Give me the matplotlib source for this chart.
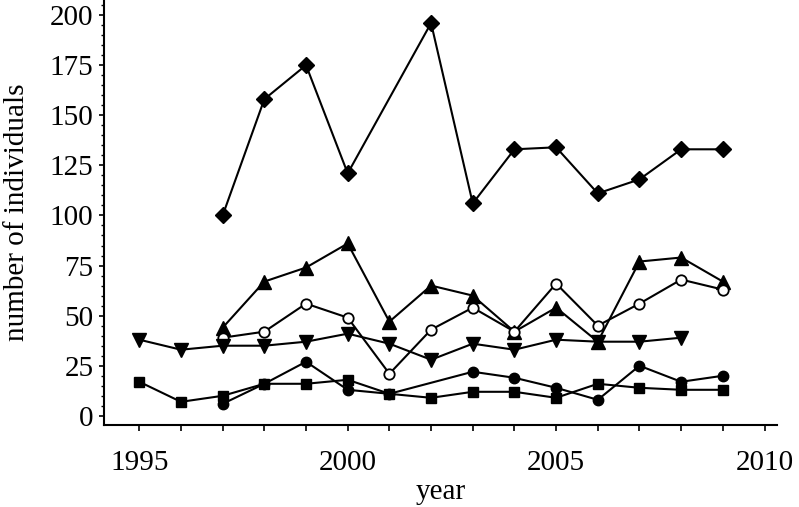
import matplotlib
matplotlib.use("Agg")
import matplotlib.pyplot as plt
import numpy as np
from matplotlib.ticker import MultipleLocator

plt.rcParams['font.family'] = ['Liberation Serif', 'DejaVu Serif']

diamond_years = [1997, 1998, 1999, 2000, 2002, 2003, 2004, 2005, 2006, 2007, 2008, 2009]
diamond_vals = [100, 158, 175, 121, 196, 106, 133, 134, 111, 118, 133, 133]

tri_up_years = [1997, 1998, 1999, 2000, 2001, 2002, 2003, 2004, 2005, 2006, 2007, 2008, 2009]
tri_up_vals = [44, 67, 74, 86, 47, 65, 60, 42, 54, 37, 77, 79, 67]

open_circle_years = [1997, 1998, 1999, 2000, 2001, 2002, 2003, 2004, 2005, 2006, 2007, 2008, 2009]
open_circle_vals = [39, 42, 56, 49, 21, 43, 54, 42, 66, 45, 56, 68, 63]

tri_down_years = [1995, 1996, 1997, 1998, 1999, 2000, 2001, 2002, 2003, 2004, 2005, 2006, 2007, 2008]
tri_down_vals = [38, 33, 35, 35, 37, 41, 36, 28, 36, 33, 38, 37, 37, 39]

circle_years = [1997, 1998, 1999, 2000, 2001, 2003, 2004, 2005, 2006, 2007, 2008, 2009]
circle_vals = [6, 16, 27, 13, 11, 22, 19, 14, 8, 25, 17, 20]

square_years = [1995, 1996, 1997, 1998, 1999, 2000, 2001, 2002, 2003, 2004, 2005, 2006, 2007, 2008, 2009]
square_vals = [17, 7, 10, 16, 16, 18, 11, 9, 12, 12, 9, 16, 14, 13, 13]

x_major = [1995, 2000, 2005, 2010]
y_major = [0, 25, 50, 75, 100, 125, 150, 175, 200]

fig = plt.figure(figsize=(7.99, 5.07), dpi=100)
ax = fig.add_axes([0.130, 0.162, 0.8425, 0.838])

lw = 1.5
ax.plot(diamond_years, diamond_vals, color='black', lw=lw, marker='D', ms=8.5)
ax.plot(tri_up_years, tri_up_vals, color='black', lw=lw, marker='^', ms=9.5)
ax.plot(open_circle_years, open_circle_vals, color='black', lw=lw, marker='o', ms=7.5,
        markerfacecolor='white', markeredgewidth=1.3)
ax.plot(tri_down_years, tri_down_vals, color='black', lw=lw, marker='v', ms=9.5)
ax.plot(circle_years, circle_vals, color='black', lw=lw, marker='o', ms=7.5)
ax.plot(square_years, square_vals, color='black', lw=lw, marker='s', ms=7.5)

ax.set_xlim(1994.15, 2010.3)
ax.set_ylim(-4.5, 207.5)

ax.spines['top'].set_visible(False)
ax.spines['right'].set_visible(False)
ax.spines['left'].set_linewidth(1.5)
ax.spines['bottom'].set_linewidth(1.5)

ax.set_xticks(x_major)
ax.xaxis.set_minor_locator(MultipleLocator(1))
ax.set_yticks(y_major)
ax.yaxis.set_minor_locator(MultipleLocator(5))

ax.tick_params(axis='x', which='both', direction='out', length=4, width=1.2, pad=14, labelsize=21)
ax.tick_params(axis='y', which='major', direction='out', length=3.5, width=1.2, pad=4, labelsize=21)
ax.tick_params(axis='y', which='minor', direction='out', length=2, width=1.0)

ax.set_xlabel('year', fontsize=21, labelpad=2)
ax.set_ylabel('number of individuals', fontsize=21, labelpad=14)

fig.savefig('out.png', dpi=100)
